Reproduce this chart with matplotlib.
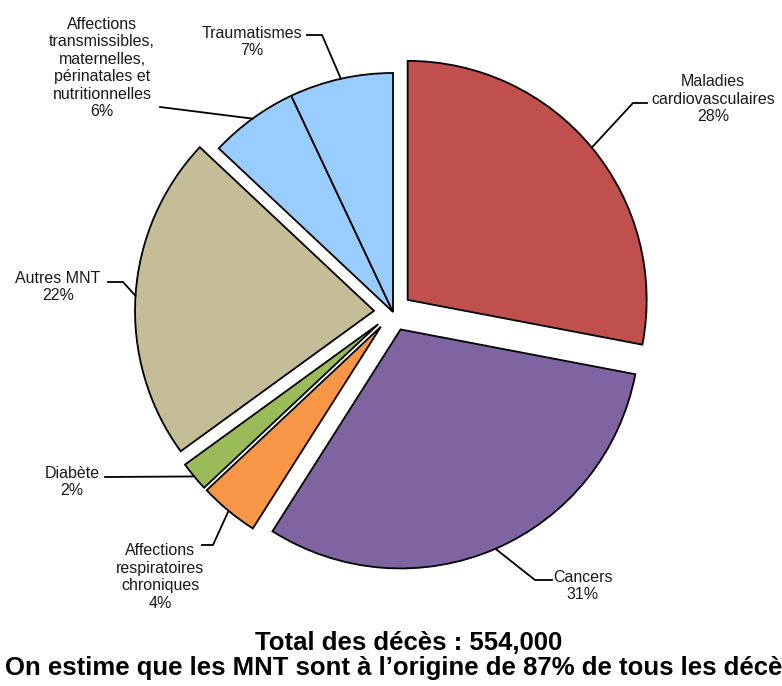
import numpy as np
import matplotlib.pyplot as plt

plt.rcParams['font.family'] = ['Liberation Sans', 'DejaVu Sans']

# données (part des décès, %)
categories = ['Maladies\ncardiovasculaires', 'Cancers',
              'Affections\nrespiratoires\nchroniques', 'Diabète', 'Autres MNT',
              'Affections\ntransmissibles,\nmaternelles,\npérinatales et\nnutritionnelles',
              'Traumatismes']
valeurs = [28, 31, 4, 2, 22, 6, 7]
couleurs = ['#C0504D', '#8064A2', '#F79646', '#9BBB59', '#C4BD97', '#99CCFF', '#99CCFF']
eclate = [19, 19, 19, 19, 19, 0, 0]

# position des étiquettes (pixels, y vers le haut) et des lignes de rappel
lab_pos = [(713, 587), (583, 100), (160, 109), (72, 204), (58, 399), (102, 618), (252, 644)]
lig_debut = [(647, 583), (552, 106), (202, 141), (105, 209), (108, 404), (160, 579), (307, 651)]
lig_coude = [(633, 583), (535, 106), (213, 141), (105, 209), (123, 404), (160, 579), (322, 651)]

W, H = 782, 686
fig = plt.figure(figsize=(W / 100, H / 100), dpi=100)
ax = fig.add_axes([0, 0, 1, 1])

centre = (393, H - 312)
rayon = 239
wedges, _ = ax.pie(valeurs, colors=couleurs, explode=eclate, startangle=90,
                   counterclock=False, center=centre, radius=rayon,
                   wedgeprops=dict(edgecolor='black', linewidth=1.3))

for w, lab, v, p0, p1, pl in zip(wedges, categories, valeurs, lig_debut, lig_coude, lab_pos):
    tm = np.deg2rad((w.theta1 + w.theta2) / 2)
    cx, cy = w.center
    ancre = (cx + w.r * np.cos(tm), cy + w.r * np.sin(tm))
    ax.plot([p0[0], p1[0], ancre[0]], [p0[1], p1[1], ancre[1]], color='black', lw=1.3)
    ax.text(pl[0], pl[1], f'{lab}\n{v}%', ha='center', va='center',
            fontsize=11.5, color='#1a1a1a', linespacing=1.2)

ax.text(409, H - 643, 'Total des décès : 554,000', ha='center', va='center',
        fontsize=18.5, fontweight='bold', color='black')
ax.text(5, H - 668, 'On estime que les MNT sont à l’origine de 87% de tous les décès',
        ha='left', va='center', fontsize=18.5, fontweight='bold', color='black')

ax.set_xlim(0, W)
ax.set_ylim(0, H)
ax.set_aspect('auto')
ax.axis('off')

fig.savefig('out.png', dpi=100)
